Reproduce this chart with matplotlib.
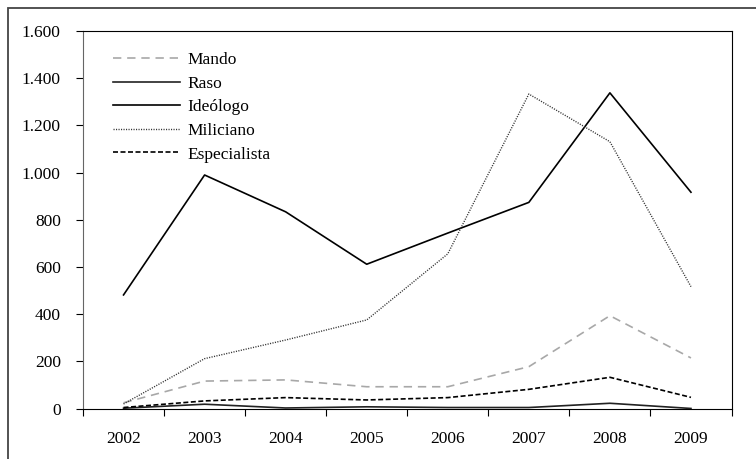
import matplotlib
matplotlib.use("Agg")

import matplotlib.pyplot as plt
from matplotlib.patches import Rectangle
from matplotlib.ticker import FuncFormatter, FixedLocator

years = ["2002", "2003", "2004", "2005", "2006", "2007", "2008", "2009"]
mando = [25, 117, 122, 93, 93, 178, 394, 215]
raso = [2, 19, 3, 8, 5, 5, 23, 1]
ideologo = [482, 990, 834, 612, 744, 874, 1338, 917]
miliciano = [20, 212, 291, 376, 656, 1333, 1131, 517]
especialista = [5, 33, 47, 37, 47, 82, 133, 48]

plt.rcParams["font.family"] = ["Liberation Serif", "DejaVu Serif"]

fig = plt.figure(figsize=(7.56, 4.59), dpi=100)
# outer frame, open on right and bottom like the source
fig.patches.append(Rectangle((7.5 / 756, -0.1), 1.2, 1 - 7.5 / 459 + 0.1,
                             transform=fig.transFigure, fill=False,
                             edgecolor="#444444", linewidth=1.3))

ax = fig.add_axes([83 / 756, 1 - 408.7 / 459, (731.5 - 83) / 756, (408.7 - 31) / 459])
x = list(range(len(years)))

ax.plot(x, mando, color="#a8a8a8", linewidth=1.2, dashes=(5, 3.5), label="Mando")
ax.plot(x, raso, color="#222222", linewidth=1.2, label="Raso")
ax.plot(x, ideologo, color="black", linewidth=1.2, label="Ideólogo")
ax.plot(x, miliciano, color="#333333", linewidth=1.0, dashes=(0.8, 1.0), label="Miliciano")
ax.plot(x, especialista, color="black", linewidth=1.2, dashes=(3, 1.5), label="Especialista")

ax.set_xlim(-0.5, len(years) - 0.5)
ax.set_ylim(0, 1600)
ax.set_yticks(range(0, 1601, 200))
ax.yaxis.set_major_formatter(FuncFormatter(lambda v, p: f"{int(v):,}".replace(",", ".")))

ax.xaxis.set_major_locator(FixedLocator([i - 0.5 for i in range(len(years) + 1)]))
ax.xaxis.set_major_formatter(FuncFormatter(lambda v, p: ""))
ax.xaxis.set_minor_locator(FixedLocator(x))
ax.set_xticklabels(years, minor=True)
ax.tick_params(axis="x", which="major", direction="out", length=5, width=0.8)
ax.tick_params(axis="x", which="minor", length=0, pad=16, labelsize=12.5)
ax.tick_params(axis="y", direction="out", length=5, width=0.8, pad=11, labelsize=12.5)

for s in ax.spines.values():
    s.set_linewidth(0.8)
ax.spines["left"].set_color("#666666")

ax.legend(loc="upper left", bbox_to_anchor=(0.035, 0.963), frameon=False,
          fontsize=12.5, handlelength=3.9, handletextpad=0.4, labelspacing=0.43,
          borderaxespad=0)

plt.savefig("out.png", dpi=100)
plt.close()
